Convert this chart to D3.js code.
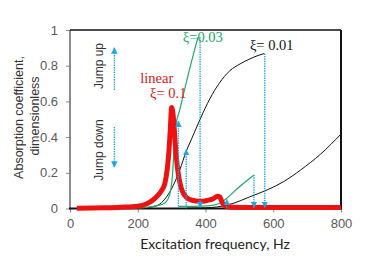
<!DOCTYPE html>
<html>
<head>
<meta charset="utf-8">
<script src="https://cdn.jsdelivr.net/npm/d3@7"></script>
<style>
  body { margin: 0; background: #fff; }
  svg { display: block; }
  .tick text { fill: #595959; font-family: "Liberation Sans", Arial, sans-serif; font-size: 13px; }
  .tick line { stroke: #888; }
  .axis path.domain { display: none; }
  .ann { font-family: "Liberation Serif", "DejaVu Serif", serif; font-size: 14.5px; }
</style>
</head>
<body>
<div id="chart-area"></div>
<script>
const xTicks = [0, 200, 400, 600, 800];
const yTicks = [0, 0.2, 0.4, 0.6, 0.8, 1];

// linear, xi = 0.1 (red)
const redFreq = [20, 100, 150, 200, 225, 245, 260, 270, 280, 287, 292, 296, 300, 304, 308, 312, 316, 320, 325, 330, 344, 360, 384, 405, 423, 435, 442, 448, 455, 465, 500, 600, 800];
const redAbs = [0.002, 0.004, 0.007, 0.013, 0.025, 0.048, 0.075, 0.1, 0.14, 0.22, 0.32, 0.44, 0.566, 0.53, 0.44, 0.33, 0.25, 0.19, 0.14, 0.105, 0.062, 0.046, 0.04, 0.045, 0.055, 0.068, 0.065, 0.04, 0.018, 0.01, 0.006, 0.005, 0.005];

// xi = 0.03 (green), upper and lower branches
const greenUpFreq = [200, 230, 255, 270, 285, 295, 300, 303, 307, 310, 325, 340, 357, 378];
const greenUpAbs = [0.003, 0.008, 0.015, 0.022, 0.04, 0.085, 0.14, 0.2, 0.34, 0.44, 0.56, 0.68, 0.81, 0.96];
const greenLowFreq = [320, 350, 384, 420, 440, 455, 499, 543];
const greenLowAbs = [0.012, 0.012, 0.013, 0.018, 0.028, 0.046, 0.12, 0.188];

// xi = 0.01 (black), upper and lower branches
const blackUpFreq = [210, 240, 265, 285, 305, 324, 343, 359, 384, 413, 440, 472, 502, 531, 555, 573];
const blackUpAbs = [0.001, 0.008, 0.025, 0.065, 0.13, 0.216, 0.32, 0.39, 0.5, 0.615, 0.7, 0.772, 0.81, 0.838, 0.857, 0.868];
const blackLowFreq = [343, 400, 435, 484, 530, 582, 630, 681, 740, 800];
const blackLowAbs = [0.002, 0.004, 0.009, 0.03, 0.065, 0.104, 0.15, 0.216, 0.305, 0.417];

// jump arrows (dotted cyan)
const jumpFreq = [320, 343, 384, 543, 575, 463];
const jumpFrom = [0.012, 0.002, 0.96, 0.188, 0.868, 0.006];
const jumpTo = [0.49, 0.33, 0.006, 0.006, 0.006, 0.05];

const cyan = "#1ea7e1";
const size = { width: 368, height: 263 };

const svg = d3.select("#chart-area").append("svg")
  .attr("width", size.width).attr("height", size.height);

const x = d3.scaleLinear().domain([0, 800]).range([70, 341]);
const y = d3.scaleLinear().domain([0, 1]).range([208.5, 30]);

svg.append("defs").append("marker")
  .attr("id", "arr")
  .attr("viewBox", "0 0 10 10")
  .attr("refX", 9).attr("refY", 5)
  .attr("markerUnits", "userSpaceOnUse")
  .attr("markerWidth", 6.5).attr("markerHeight", 6.5)
  .attr("orient", "auto")
  .append("path").attr("d", "M0,0L10,5L0,10z").attr("fill", cyan);

// axes
svg.append("g").attr("class", "axis")
  .attr("transform", "translate(0,208.5)")
  .call(d3.axisBottom(x).tickValues(xTicks).tickSize(4).tickPadding(6));
svg.append("g").attr("class", "axis")
  .attr("transform", "translate(70,0)")
  .call(d3.axisLeft(y).tickValues(yTicks).tickSize(4).tickPadding(8).tickFormat(d3.format("~g")));

// frame
svg.append("line").attr("x1", 70).attr("x2", 70).attr("y1", 30).attr("y2", 208.5).attr("stroke", "#666").attr("stroke-width", 1.5);
svg.append("line").attr("x1", 70).attr("x2", 341).attr("y1", 30).attr("y2", 30).attr("stroke", "#111").attr("stroke-width", 1.5);
svg.append("line").attr("x1", 341).attr("x2", 341).attr("y1", 30).attr("y2", 208.5).attr("stroke", "#111").attr("stroke-width", 2);
svg.append("line").attr("x1", 69).attr("x2", 342).attr("y1", 208.5).attr("y2", 208.5).attr("stroke", "#111").attr("stroke-width", 2);

const line = d3.line().x(d => x(d[0])).y(d => y(d[1])).curve(d3.curveMonotoneX);
const pairs = (f, a) => f.map((v, i) => [v, a[i]]);

const curves = [
  { f: blackUpFreq, a: blackUpAbs, c: "#111", w: 1 },
  { f: blackLowFreq, a: blackLowAbs, c: "#111", w: 1 },
  { f: greenUpFreq, a: greenUpAbs, c: "#22a868", w: 1.2 },
  { f: greenLowFreq, a: greenLowAbs, c: "#22a868", w: 1.2 },
  { f: redFreq, a: redAbs, c: "#ee1111", w: 5 }
];
curves.forEach(cv => {
  svg.append("path")
    .attr("d", line(pairs(cv.f, cv.a)))
    .attr("fill", "none")
    .attr("stroke", cv.c)
    .attr("stroke-width", cv.w)
    .attr("stroke-linejoin", "round");
});

// jump arrows
svg.selectAll(".jump").data(jumpFreq).join("line")
  .attr("class", "jump")
  .attr("x1", d => x(d)).attr("x2", d => x(d))
  .attr("y1", (d, i) => y(jumpFrom[i])).attr("y2", (d, i) => y(jumpTo[i]))
  .attr("stroke", cyan).attr("stroke-width", 1.4)
  .attr("stroke-dasharray", "1.4,1")
  .attr("marker-end", "url(#arr)");

// legend arrows
svg.append("line").attr("x1", x(131)).attr("x2", x(131)).attr("y1", y(0.664)).attr("y2", y(0.9))
  .attr("stroke", cyan).attr("stroke-width", 1.4).attr("stroke-dasharray", "1.4,1").attr("marker-end", "url(#arr)");
svg.append("line").attr("x1", x(131)).attr("x2", x(131)).attr("y1", y(0.457)).attr("y2", y(0.232))
  .attr("stroke", cyan).attr("stroke-width", 1.4).attr("stroke-dasharray", "1.4,1").attr("marker-end", "url(#arr)");

const sideText = (t, cx, cy) => svg.append("text")
  .attr("transform", `translate(${cx},${cy}) rotate(-90)`)
  .attr("text-anchor", "middle").attr("dy", "0.35em")
  .attr("font-family", "'Liberation Sans', Arial, sans-serif").attr("font-size", 12)
  .attr("fill", "#333").text(t);
sideText("Jump up", 99, 66);
sideText("Jump down", 99, 150);

// curve labels
svg.append("text").attr("class", "ann").attr("x", x(256)).attr("y", y(0.703)).attr("text-anchor", "middle").attr("fill", "#d42020").text("linear");
svg.append("text").attr("class", "ann").attr("x", x(290)).attr("y", y(0.62)).attr("text-anchor", "middle").attr("fill", "#d42020").text("ξ= 0.1");
svg.append("text").attr("class", "ann").attr("x", x(333)).attr("y", y(0.935)).attr("fill", "#22a868").attr("font-size", 15).text("ξ=0.03");
svg.append("text").attr("class", "ann").attr("x", x(531)).attr("y", y(0.89)).attr("fill", "#111").text("ξ= 0.01");

// axis titles
svg.append("text").attr("x", 215).attr("y", 249).attr("text-anchor", "middle")
  .attr("font-family", "Lato, 'Liberation Sans', sans-serif").attr("font-size", 14).attr("fill", "#222")
  .text("Excitation frequency, Hz");
const yTitle = (t, cx, cy) => svg.append("text")
  .attr("transform", `translate(${cx},${cy}) rotate(-90)`)
  .attr("text-anchor", "middle").attr("dy", "0.35em")
  .attr("font-family", "'Liberation Sans', Arial, sans-serif").attr("font-size", 12.5)
  .attr("fill", "#333").text(t);
yTitle("Absorption coefficient,", 19, 117.5);
yTitle("dimensionless", 35, 116);
</script>
</body>
</html>
